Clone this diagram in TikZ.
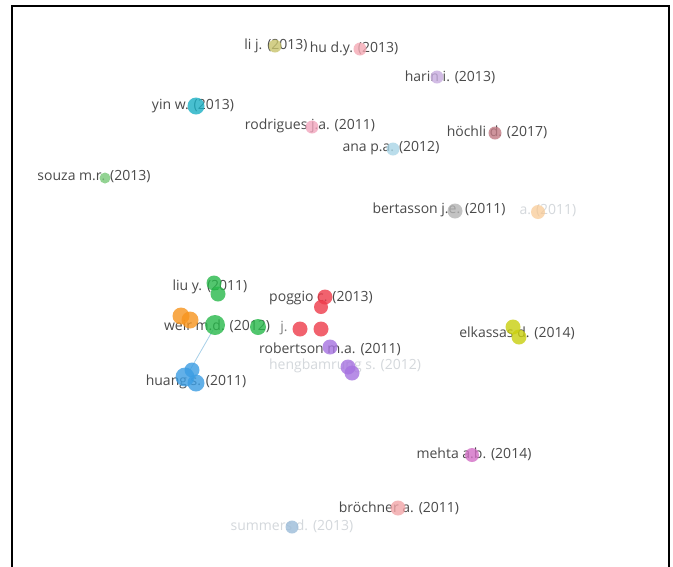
\documentclass[tikz,border=0pt]{standalone}
\usepackage{fontspec}
\setmainfont{Open Sans}
\definecolor{labgray}{HTML}{4A4A4A}
\definecolor{faintgray}{HTML}{D4D8DC}
\definecolor{cOlive}{HTML}{C8C46C}
\definecolor{cPinkA}{HTML}{F4A9B4}
\definecolor{cLav}{HTML}{C7ACDF}
\definecolor{cCyan}{HTML}{1BB0C4}
\definecolor{cPinkB}{HTML}{F2A5BD}
\definecolor{cBrown}{HTML}{C27A84}
\definecolor{cSky}{HTML}{A9D5E6}
\definecolor{cLime}{HTML}{79C878}
\definecolor{cGrey}{HTML}{B4B4B4}
\definecolor{cPeach}{HTML}{F9C890}
\definecolor{cGreen}{HTML}{27B84A}
\definecolor{cOrange}{HTML}{F7941D}
\definecolor{cRed}{HTML}{EE3B4A}
\definecolor{cPurple}{HTML}{A672E0}
\definecolor{cBlue}{HTML}{3B9DE3}
\definecolor{cYellow}{HTML}{C9CF0E}
\definecolor{cMagenta}{HTML}{D36FC6}
\definecolor{cSalmon}{HTML}{F2A5A8}
\definecolor{cSteel}{HTML}{9CBCD9}
\definecolor{cEdge}{HTML}{A8D0E8}
\begin{document}
\begin{tikzpicture}[x=1pt,y=-1pt,
  bub/.style={circle, inner sep=0pt, minimum size=#1, fill opacity=0.8, draw=none},
  lab/.style={font=\fontsize{14}{14}\selectfont, text=labgray, inner sep=0pt},
  flab/.style={lab, text=faintgray},
  frame/.style={line width=1.6pt, black}]
\useasboundingbox (0,0) rectangle (673,566);
\fill[white] (0,0) rectangle (673,566);
\draw[frame] (12,570) -- (12,6) -- (669,6) -- (669,570);

% edge
\draw[cEdge, line width=0.8pt] (213,330) -- (190,370);

% labels
\node[lab] (Lli) at (276,46) {li j. (2013)};
\node[lab] (Lhu) at (354,49) {hu d.y. (2013)};
\node[lab] (Lharin) at (450,77) {harin i. (2013)};
\node[lab] (Lyin) at (193,106) {yin w. (2013)};
\node[lab] (Lrod) at (310,126) {rodrigues j.a. (2011)};
\node[lab] (Lhoch) at (497,132) {höchli d. (2017)};
\node[lab] (Lana) at (391,148) {ana p.a. (2012)};
\node[lab] (Lsouza) at (94,177) {souza m.r. (2013)};
\node[lab] (Lbert) at (439,210) {bertasson j.e. (2011)};
\node[flab] (Lfaint) at (548,211) {a. (2011)};
\node[lab] (Lliu) at (210,287) {liu y. (2011)};
\node[lab] (Lpog) at (321,298) {poggio c. (2013)};
\node[lab] (Lweir) at (217,326) {weir m.d. (2012)};
\node[lab, text=gray] (Lj) at (284,328) {j.};
\node[lab] (Lrob) at (330,349) {robertson m.a. (2011)};
\node[flab] (Lhidden) at (345,366) {hengbamrung s. (2012)};
\node[lab] (Lhuang) at (196,382) {huang s. (2011)};
\node[lab] (Lelk) at (517,333) {elkassas d. (2014)};
\node[lab] (Lmehta) at (474,454) {mehta a.b. (2014)};
\node[lab] (Lbro) at (399,508) {bröchner a. (2011)};
\node[flab] (Lsum) at (292,526) {summers d. (2013)};

% bubbles
\node[bub=13, fill=cOlive] (li) at (275,46) {};
\node[bub=13, fill=cPinkA] (hu) at (360,49) {};
\node[bub=13, fill=cLav] (harin) at (437,77) {};
\node[bub=17, fill=cCyan] (yin) at (196,106) {};
\node[bub=13, fill=cPinkB] (rod) at (312,127) {};
\node[bub=13, fill=cBrown] (hoch) at (495,133) {};
\node[bub=13, fill=cSky] (ana) at (393,149) {};
\node[bub=11, fill=cLime] (souza) at (105,178) {};
\node[bub=15, fill=cGrey] (bert) at (455,211) {};
\node[bub=14, fill=cPeach, fill opacity=0.7] (faint) at (538,212) {};
\node[bub=15, fill=cGreen] (liuA) at (214,283) {};
\node[bub=15, fill=cGreen] (liuB) at (218,294) {};
\node[bub=17, fill=cOrange] (orA) at (181,316) {};
\node[bub=17, fill=cOrange] (orB) at (190,320) {};
\node[bub=20, fill=cGreen] (weir) at (215,325) {};
\node[bub=16, fill=cGreen] (gr2) at (258,327) {};
\node[bub=15, fill=cRed] (redA) at (325,297) {};
\node[bub=14, fill=cRed] (redB) at (321,307) {};
\node[bub=15, fill=cRed] (redC) at (300,329) {};
\node[bub=15, fill=cRed] (redD) at (321,329) {};
\node[bub=15, fill=cPurple] (rob) at (330,347) {};
\node[bub=15, fill=cPurple] (purA) at (348,367) {};
\node[bub=15, fill=cPurple] (purB) at (352,373) {};
\node[bub=15, fill=cBlue] (huC) at (192,370) {};
\node[bub=19, fill=cBlue] (huA) at (185,377) {};
\node[bub=17, fill=cBlue] (huB) at (196,383) {};
\node[bub=15, fill=cYellow] (elkA) at (513,327) {};
\node[bub=15, fill=cYellow] (elkB) at (519,337) {};
\node[bub=14, fill=cMagenta] (mehta) at (472,455) {};
\node[bub=15, fill=cSalmon] (bro) at (398,508) {};
\node[bub=13, fill=cSteel] (sum) at (292,527) {};
\end{tikzpicture}
\end{document}
